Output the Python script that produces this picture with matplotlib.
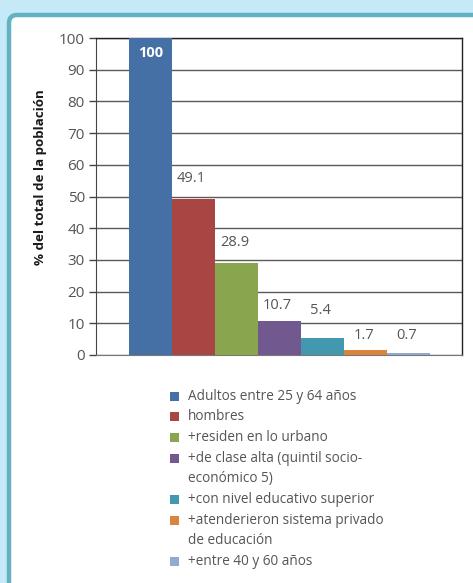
import matplotlib
matplotlib.use("Agg")
import matplotlib.pyplot as plt
from matplotlib.patches import FancyBboxPatch, Rectangle

# ─── Datos ────────────────────────────────────────────────────────────────────
categorias = [
    "Adultos entre 25 y 64 años",
    "hombres",
    "+residen en lo urbano",
    "+de clase alta (quintil socio-\neconómico 5)",
    "+con nivel educativo superior",
    "+atenderieron sistema privado\nde educación",
    "+entre 40 y 60 años",
]
valores = [100, 49.1, 28.9, 10.7, 5.4, 1.7, 0.7]
etiquetas = ["100", "49.1", "28.9", "10.7", "5.4", "1.7", "0.7"]
colores = ["#4470a6", "#a84644", "#89a54e", "#71588f",
           "#4198af", "#db843d", "#93a9cf"]
yticks = list(range(0, 101, 10))

# separación (px) entre la etiqueta y el tope de cada barra, como en el original
sep_etiqueta = [0, 13, 13, 8, 20, 7, 10]

FONT = ["Open Sans", "DejaVu Sans"]
GRIS = "#555555"

W, H = 473, 583
fig = plt.figure(figsize=(W / 100, H / 100), dpi=100)
fig.patch.set_facecolor("#c6e9f8")

# ─── Fondo: panel blanco con borde turquesa (coordenadas en píxeles) ─────────
bg = fig.add_axes([0, 0, 1, 1], zorder=-1)
bg.set_xlim(0, W)
bg.set_ylim(H, 0)
bg.axis("off")
bg.add_patch(FancyBboxPatch((9, 15), 520, 620,
                            boxstyle="round,pad=0,rounding_size=8",
                            facecolor="white", edgecolor="#62b2c0", lw=3.2))

# ─── Gráfico de barras ───────────────────────────────────────────────────────
ax = fig.add_axes([96 / W, 1 - 355 / H, 366 / W, 317 / H])
x = list(range(len(valores)))
ax.bar(x, valores, width=1.0, color=colores, zorder=3)
ax.set_xlim(-0.5 - 33 / 43, len(valores) - 0.5 + 32 / 43)
ax.set_ylim(0, 100)
ax.set_yticks(yticks)
ax.set_xticks([])
ax.yaxis.grid(True, color="#5a5a5a", lw=1.0, zorder=0)
ax.tick_params(axis="y", length=5, width=1, color="#444444",
               labelsize=11, labelcolor=GRIS, pad=3)
for lbl in ax.get_yticklabels():
    lbl.set_family(FONT)
for s in ["top", "right"]:
    ax.spines[s].set_color("#222222")
    ax.spines[s].set_linewidth(1.0)
ax.spines["left"].set_color("#444444")
ax.spines["bottom"].set_color("#777777")

ax.set_ylabel("% del total de la población", family=FONT, fontsize=9.6,
              fontweight="bold", color="#1a1a1a")
ax.yaxis.set_label_coords(-0.135, 0.56)

for xi, v, t, sep in zip(x, valores, etiquetas, sep_etiqueta):
    if v >= 100:
        ax.annotate(t, (xi, v), xytext=(0, -6), textcoords="offset points",
                    ha="center", va="top", color="white", fontsize=10.5,
                    fontweight="bold", family=FONT, zorder=4)
    else:
        ax.annotate(t, (xi, v), xytext=(-1.4, sep * 0.72), textcoords="offset points",
                    ha="center", va="bottom", color=GRIS, fontsize=10.5,
                    family=FONT, zorder=4)

# ─── Leyenda manual ──────────────────────────────────────────────────────────
y = 396
for c, lab in zip(colores, categorias):
    bg.add_patch(Rectangle((170, y - 4.5), 9, 9, facecolor=c, edgecolor="none"))
    for linea in lab.split("\n"):
        bg.text(188, y, linea, ha="left", va="center", fontsize=9.8,
                color=GRIS, family=FONT)
        y += 20.2
    y += 0.6

fig.savefig("out.png", dpi=100)
